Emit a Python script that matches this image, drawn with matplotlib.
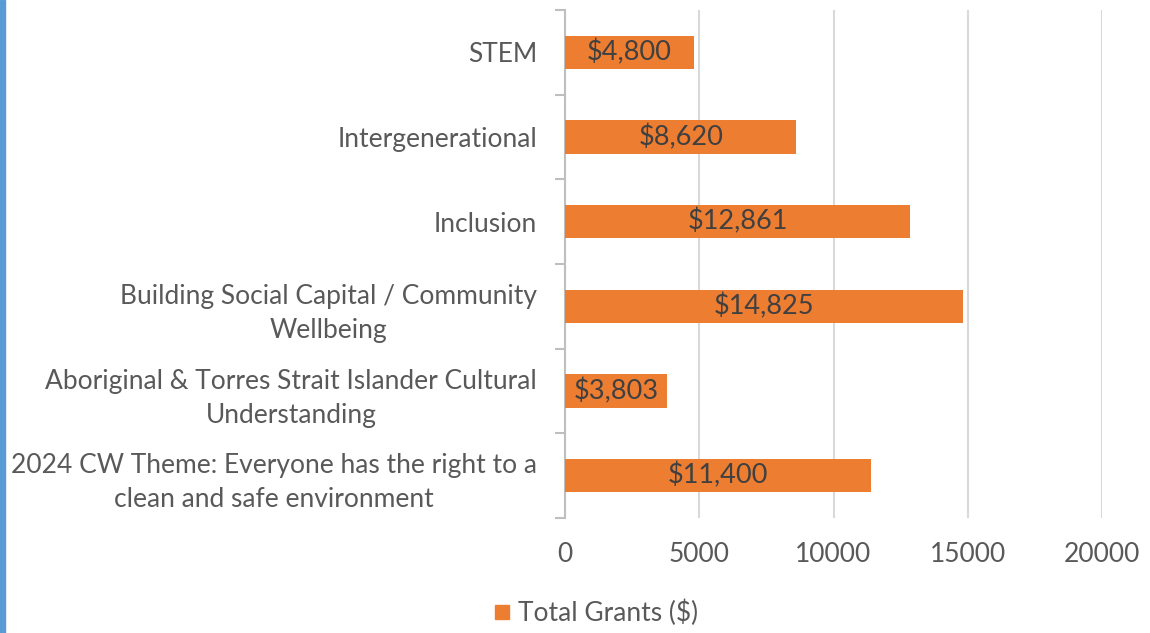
import matplotlib
matplotlib.use("Agg")
import matplotlib.pyplot as plt
from matplotlib.lines import Line2D
from matplotlib.patches import Rectangle

categories = [
    "2024 CW Theme: Everyone has the right to a\nclean and safe environment",
    "Aboriginal & Torres Strait Islander Cultural\nUnderstanding",
    "Building Social Capital / Community\nWellbeing",
    "Inclusion",
    "Intergenerational",
    "STEM",
]
values = [11400, 3803, 14825, 12861, 8620, 4800]
bar_labels = ["$11,400", "$3,803", "$14,825", "$12,861", "$8,620", "$4,800"]
xticks = [0, 5000, 10000, 15000, 20000]
series_name = "Total Grants ($)"

ORANGE = "#ED7D31"
TEXT = "#595959"
GRID = "#D9D9D9"
FONT = "Lato"
FS = 19

plt.rcParams["font.family"] = [FONT, "DejaVu Sans"]

fig = plt.figure(figsize=(11.5, 6.33), dpi=100)
ax = fig.add_axes([565/1150, 1-518/633, (1102-565)/1150, (518-10)/633])

ypos = list(range(len(categories)))
ax.barh(ypos, values, height=0.39, color=ORANGE, zorder=3)
for y, v, lab in zip(ypos, values, bar_labels):
    ax.text(v/2, y, lab, ha="center", va="center", fontsize=FS+0.5, color="#404040", zorder=4)

ax.set_xlim(0, 20000)
ax.set_ylim(-0.5, len(categories)-0.5)
ax.set_xticks(xticks)
ax.set_xticklabels([str(t) for t in xticks], fontsize=FS, color=TEXT)
ax.tick_params(axis="x", length=0, pad=17)
ax.xaxis.grid(True, color=GRID, linewidth=1.5, zorder=0)

ax.set_yticks([i-0.5 for i in range(len(categories)+1)])
ax.set_yticklabels([])
ax.tick_params(axis="y", which="major", length=7, color="#BFBFBF", width=1.5)
ax.set_yticks(ypos, minor=True)
ax.set_yticklabels(categories, minor=True, fontsize=FS, color=TEXT)
ax.tick_params(axis="y", which="minor", length=0, pad=20)
for t in ax.get_yticklabels(minor=True):
    t.set_multialignment("center")
    t.set_linespacing(1.45)

for s in ["top", "right", "bottom"]:
    ax.spines[s].set_visible(False)
ax.spines["left"].set_color("#BFBFBF")
ax.spines["left"].set_linewidth(1.5)

handle = Line2D([], [], marker="s", linestyle="none", color=ORANGE, markersize=10)
fig.legend([handle], [series_name], loc="center", bbox_to_anchor=(596/1150, 1-613/633),
           frameon=False, fontsize=FS, labelcolor=TEXT, handlelength=0.6, handletextpad=0.3)

fig.add_artist(Rectangle((0, 0), 5/1150, 1, transform=fig.transFigure, color="#5B9BD5"))

fig.savefig("out.png", dpi=100)
